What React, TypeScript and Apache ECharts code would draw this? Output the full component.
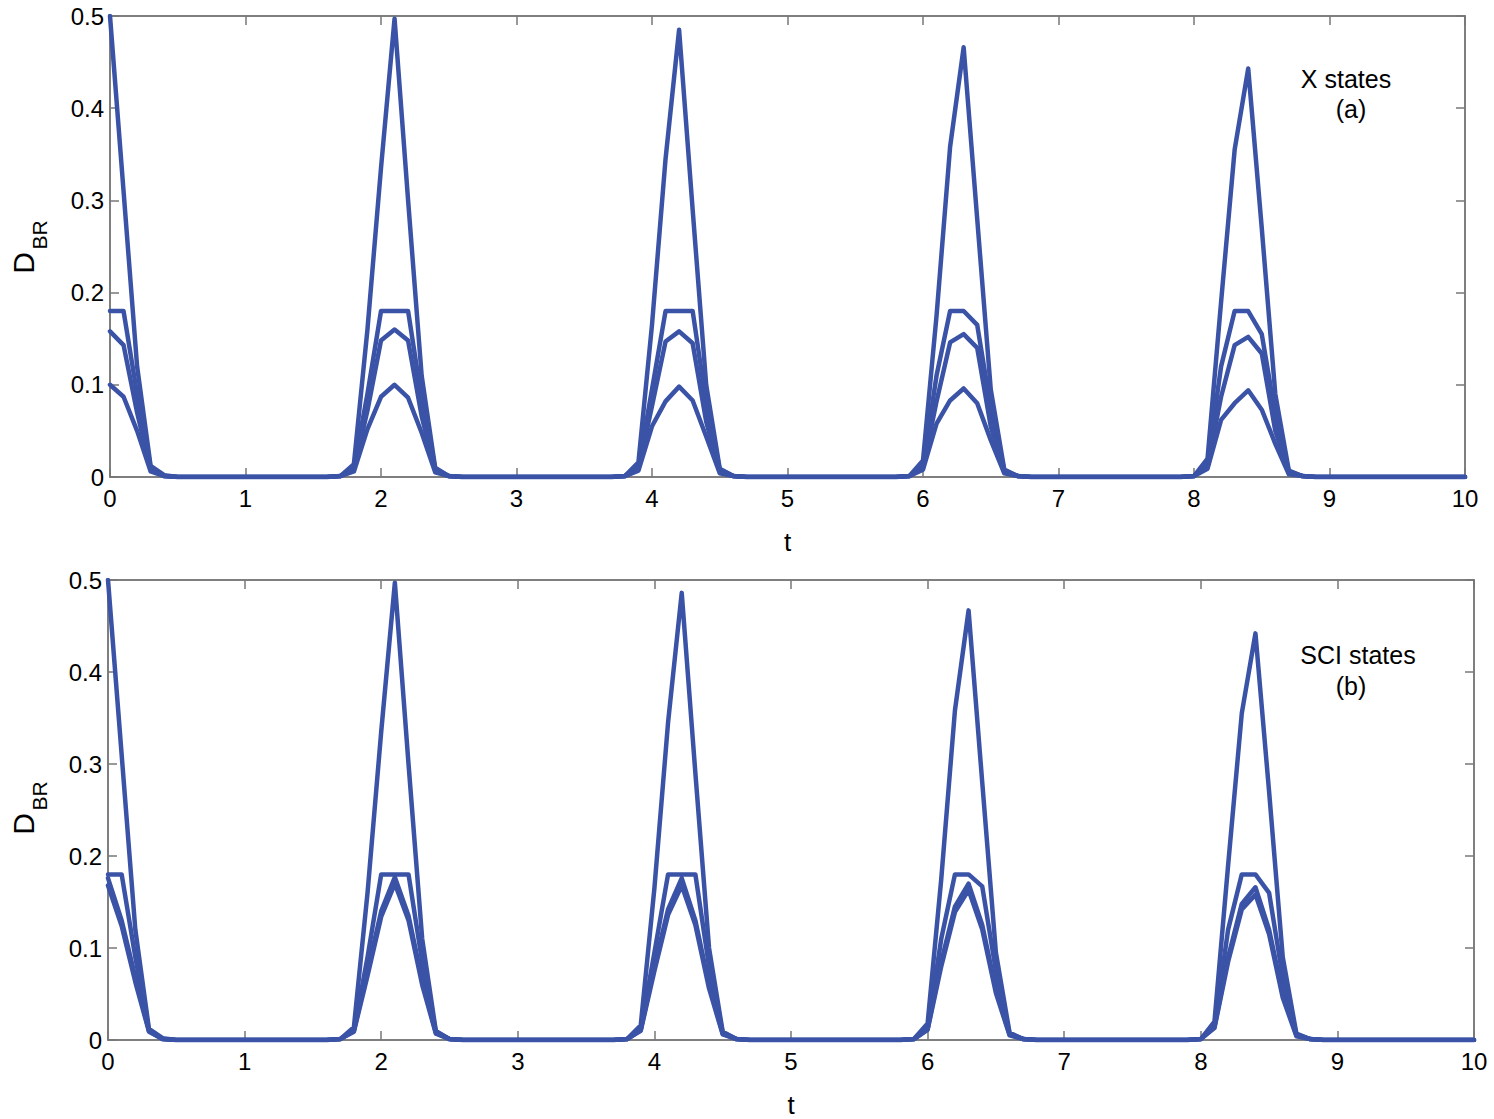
import React, { useEffect, useRef } from "react";
import * as echarts from "echarts";

// ---- Data (t, D_BR) ----
const xTicks = [0, 1, 2, 3, 4, 5, 6, 7, 8, 9, 10];
const yTicks = [0, 0.1, 0.2, 0.3, 0.4, 0.5];

// Panel (a): X states
const xTall: [number, number][] = [
  [0, 0.5], [0.1, 0.31], [0.2, 0.12], [0.3, 0.012], [0.4, 0.002], [0.5, 0],
  [1.6, 0], [1.7, 0.001], [1.8, 0.014], [1.9, 0.16], [2.0, 0.335], [2.1, 0.497], [2.2, 0.3], [2.3, 0.11], [2.4, 0.01], [2.5, 0.001], [2.6, 0],
  [3.7, 0], [3.8, 0.001], [3.9, 0.016], [4.0, 0.165], [4.1, 0.345], [4.2, 0.485], [4.3, 0.29], [4.4, 0.1], [4.5, 0.009], [4.6, 0.001], [4.7, 0],
  [5.8, 0], [5.9, 0.001], [6.0, 0.018], [6.1, 0.175], [6.2, 0.358], [6.3, 0.466], [6.4, 0.28], [6.5, 0.095], [6.6, 0.008], [6.7, 0.001], [6.8, 0],
  [7.9, 0], [8.0, 0.001], [8.1, 0.02], [8.2, 0.19], [8.3, 0.355], [8.4, 0.443], [8.5, 0.27], [8.6, 0.09], [8.7, 0.007], [8.8, 0.001], [8.9, 0], [10, 0],
];
const xFlat: [number, number][] = [
  [0, 0.18], [0.1, 0.18], [0.2, 0.09], [0.3, 0.01], [0.4, 0.001], [0.5, 0],
  [1.6, 0], [1.7, 0.001], [1.8, 0.01], [1.9, 0.09], [2.0, 0.18], [2.1, 0.18], [2.2, 0.18], [2.3, 0.085], [2.4, 0.009], [2.5, 0.001], [2.6, 0],
  [3.7, 0], [3.8, 0.001], [3.9, 0.011], [4.0, 0.095], [4.1, 0.18], [4.2, 0.18], [4.3, 0.18], [4.4, 0.08], [4.5, 0.008], [4.6, 0.001], [4.7, 0],
  [5.8, 0], [5.9, 0.001], [6.0, 0.012], [6.1, 0.11], [6.2, 0.18], [6.3, 0.18], [6.4, 0.165], [6.5, 0.075], [6.6, 0.007], [6.7, 0.001], [6.8, 0],
  [7.9, 0], [8.0, 0.001], [8.1, 0.015], [8.2, 0.12], [8.3, 0.18], [8.4, 0.18], [8.5, 0.155], [8.6, 0.068], [8.7, 0.006], [8.8, 0.001], [8.9, 0], [10, 0],
];
const xMid: [number, number][] = [
  [0, 0.158], [0.1, 0.143], [0.2, 0.07], [0.3, 0.008], [0.4, 0.001], [0.5, 0],
  [1.6, 0], [1.7, 0.001], [1.8, 0.008], [1.9, 0.072], [2.0, 0.148], [2.1, 0.16], [2.2, 0.148], [2.3, 0.066], [2.4, 0.007], [2.5, 0.001], [2.6, 0],
  [3.7, 0], [3.8, 0.001], [3.9, 0.009], [4.0, 0.077], [4.1, 0.147], [4.2, 0.158], [4.3, 0.145], [4.4, 0.06], [4.5, 0.006], [4.6, 0.001], [4.7, 0],
  [5.8, 0], [5.9, 0.001], [6.0, 0.01], [6.1, 0.082], [6.2, 0.146], [6.3, 0.155], [6.4, 0.14], [6.5, 0.055], [6.6, 0.005], [6.7, 0.001], [6.8, 0],
  [7.9, 0], [8.0, 0.001], [8.1, 0.012], [8.2, 0.087], [8.3, 0.143], [8.4, 0.152], [8.5, 0.134], [8.6, 0.05], [8.7, 0.005], [8.8, 0.001], [8.9, 0], [10, 0],
];
const xLow: [number, number][] = [
  [0, 0.1], [0.1, 0.087], [0.2, 0.05], [0.3, 0.006], [0.4, 0.001], [0.5, 0],
  [1.6, 0], [1.7, 0.001], [1.8, 0.006], [1.9, 0.052], [2.0, 0.087], [2.1, 0.1], [2.2, 0.086], [2.3, 0.048], [2.4, 0.005], [2.5, 0.001], [2.6, 0],
  [3.7, 0], [3.8, 0.001], [3.9, 0.007], [4.0, 0.055], [4.1, 0.082], [4.2, 0.098], [4.3, 0.083], [4.4, 0.044], [4.5, 0.004], [4.6, 0.001], [4.7, 0],
  [5.8, 0], [5.9, 0.001], [6.0, 0.008], [6.1, 0.058], [6.2, 0.083], [6.3, 0.096], [6.4, 0.08], [6.5, 0.04], [6.6, 0.004], [6.7, 0.001], [6.8, 0],
  [7.9, 0], [8.0, 0.001], [8.1, 0.009], [8.2, 0.062], [8.3, 0.08], [8.4, 0.094], [8.5, 0.073], [8.6, 0.036], [8.7, 0.003], [8.8, 0.001], [8.9, 0], [10, 0],
];

// Panel (b): SCI states
const sTall: [number, number][] = [
  [0, 0.5], [0.1, 0.31], [0.2, 0.12], [0.3, 0.012], [0.4, 0.002], [0.5, 0],
  [1.6, 0], [1.7, 0.001], [1.8, 0.014], [1.9, 0.16], [2.0, 0.335], [2.1, 0.497], [2.2, 0.3], [2.3, 0.11], [2.4, 0.01], [2.5, 0.001], [2.6, 0],
  [3.7, 0], [3.8, 0.001], [3.9, 0.016], [4.0, 0.165], [4.1, 0.345], [4.2, 0.486], [4.3, 0.29], [4.4, 0.1], [4.5, 0.009], [4.6, 0.001], [4.7, 0],
  [5.8, 0], [5.9, 0.001], [6.0, 0.018], [6.1, 0.175], [6.2, 0.358], [6.3, 0.467], [6.4, 0.28], [6.5, 0.095], [6.6, 0.008], [6.7, 0.001], [6.8, 0],
  [7.9, 0], [8.0, 0.001], [8.1, 0.02], [8.2, 0.19], [8.3, 0.355], [8.4, 0.442], [8.5, 0.27], [8.6, 0.09], [8.7, 0.007], [8.8, 0.001], [8.9, 0], [10, 0],
];
const sFlat: [number, number][] = [
  [0, 0.18], [0.1, 0.18], [0.2, 0.09], [0.3, 0.01], [0.4, 0.001], [0.5, 0],
  [1.6, 0], [1.7, 0.001], [1.8, 0.01], [1.9, 0.09], [2.0, 0.18], [2.1, 0.18], [2.2, 0.18], [2.3, 0.085], [2.4, 0.009], [2.5, 0.001], [2.6, 0],
  [3.7, 0], [3.8, 0.001], [3.9, 0.011], [4.0, 0.095], [4.1, 0.18], [4.2, 0.18], [4.3, 0.18], [4.4, 0.08], [4.5, 0.008], [4.6, 0.001], [4.7, 0],
  [5.8, 0], [5.9, 0.001], [6.0, 0.012], [6.1, 0.11], [6.2, 0.18], [6.3, 0.18], [6.4, 0.167], [6.5, 0.075], [6.6, 0.007], [6.7, 0.001], [6.8, 0],
  [7.9, 0], [8.0, 0.001], [8.1, 0.015], [8.2, 0.12], [8.3, 0.18], [8.4, 0.18], [8.5, 0.16], [8.6, 0.068], [8.7, 0.006], [8.8, 0.001], [8.9, 0], [10, 0],
];
const sPeakA: [number, number][] = [
  [0, 0.176], [0.1, 0.13], [0.2, 0.068], [0.3, 0.01], [0.4, 0.001], [0.5, 0],
  [1.6, 0], [1.7, 0.001], [1.8, 0.01], [1.9, 0.075], [2.0, 0.14], [2.1, 0.177], [2.2, 0.135], [2.3, 0.065], [2.4, 0.008], [2.5, 0.001], [2.6, 0],
  [3.7, 0], [3.8, 0.001], [3.9, 0.011], [4.0, 0.08], [4.1, 0.142], [4.2, 0.176], [4.3, 0.13], [4.4, 0.06], [4.5, 0.007], [4.6, 0.001], [4.7, 0],
  [5.8, 0], [5.9, 0.001], [6.0, 0.012], [6.1, 0.085], [6.2, 0.145], [6.3, 0.17], [6.4, 0.125], [6.5, 0.055], [6.6, 0.006], [6.7, 0.001], [6.8, 0],
  [7.9, 0], [8.0, 0.001], [8.1, 0.014], [8.2, 0.09], [8.3, 0.148], [8.4, 0.166], [8.5, 0.12], [8.6, 0.05], [8.7, 0.005], [8.8, 0.001], [8.9, 0], [10, 0],
];
const sPeakB: [number, number][] = [
  [0, 0.168], [0.1, 0.124], [0.2, 0.063], [0.3, 0.009], [0.4, 0.001], [0.5, 0],
  [1.6, 0], [1.7, 0.001], [1.8, 0.009], [1.9, 0.07], [2.0, 0.134], [2.1, 0.17], [2.2, 0.13], [2.3, 0.06], [2.4, 0.007], [2.5, 0.001], [2.6, 0],
  [3.7, 0], [3.8, 0.001], [3.9, 0.01], [4.0, 0.075], [4.1, 0.136], [4.2, 0.168], [4.3, 0.125], [4.4, 0.056], [4.5, 0.006], [4.6, 0.001], [4.7, 0],
  [5.8, 0], [5.9, 0.001], [6.0, 0.011], [6.1, 0.08], [6.2, 0.139], [6.3, 0.163], [6.4, 0.12], [6.5, 0.051], [6.6, 0.005], [6.7, 0.001], [6.8, 0],
  [7.9, 0], [8.0, 0.001], [8.1, 0.013], [8.2, 0.085], [8.3, 0.142], [8.4, 0.158], [8.5, 0.115], [8.6, 0.046], [8.7, 0.004], [8.8, 0.001], [8.9, 0], [10, 0],
];

const panelA = [xTall, xFlat, xMid, xLow];
const panelB = [sTall, sFlat, sPeakA, sPeakB];

const LINE_COLOR = "#3a53a6";
const AXIS_COLOR = "#555555";
const FONT = "'Liberation Sans', Arial, sans-serif";

export default function App() {
  const ref = useRef<HTMLDivElement>(null);

  useEffect(() => {
    if (!ref.current) return;
    const chart = echarts.init(ref.current, undefined, { renderer: "svg" });

    const grids = [
      { left: 110, top: 16, width: 1355, height: 461 },
      { left: 108, top: 580, width: 1366, height: 460 },
    ];

    const baseX = (gridIndex: number, position: "bottom" | "top", labels: boolean) => ({
      type: "value",
      gridIndex,
      position,
      min: 0,
      max: 10,
      interval: 1,
      axisLine: { show: true, onZero: false, lineStyle: { color: AXIS_COLOR, width: 1.5 } },
      axisTick: { show: true, inside: true, length: 9, lineStyle: { color: "#777", width: 1.5 } },
      axisLabel: {
        show: labels,
        color: "#000",
        fontSize: 24,
        fontFamily: FONT,
        margin: 9,
        formatter: (v: number) => (xTicks.includes(v) ? String(v) : ""),
      },
      splitLine: { show: false },
      ...(labels
        ? {
            name: "t",
            nameLocation: "middle",
            nameGap: 52,
            nameTextStyle: { color: "#000", fontSize: 26, fontFamily: FONT },
          }
        : {}),
    });

    const baseY = (gridIndex: number, position: "left" | "right", labels: boolean) => ({
      type: "value",
      gridIndex,
      position,
      min: 0,
      max: 0.5,
      interval: 0.1,
      axisLine: { show: true, onZero: false, lineStyle: { color: AXIS_COLOR, width: 1.5 } },
      axisTick: { show: true, inside: true, length: 9, lineStyle: { color: "#777", width: 1.5 } },
      axisLabel: {
        show: labels,
        color: "#000",
        fontSize: 24,
        fontFamily: FONT,
        margin: 6,
        formatter: (v: number) => {
          const r = Math.round(v * 10) / 10;
          return yTicks.includes(r) ? String(r) : "";
        },
      },
      splitLine: { show: false },
    });

    const makeSeries = (data: [number, number][], idx: number) => ({
      type: "line",
      xAxisIndex: idx,
      yAxisIndex: idx,
      data,
      showSymbol: false,
      symbol: "none",
      lineStyle: { color: LINE_COLOR, width: 4.5, join: "round", cap: "round" },
      itemStyle: { color: LINE_COLOR },
      z: 3,
    });

    const series = [
      ...panelA.map((d) => makeSeries(d, 0)),
      ...panelB.map((d) => makeSeries(d, 1)),
    ];

    const txt = (text: string, x: number, y: number, size: number, rotation = 0) => ({
      type: "text",
      x,
      y,
      rotation,
      style: {
        text,
        fill: "#000",
        font: `${size}px ${FONT}`,
        textAlign: "center",
        textVerticalAlign: "middle",
      },
      z: 10,
    });

    chart.setOption({
      animation: false,
      backgroundColor: "#ffffff",
      grid: grids.map((g) => ({ ...g, containLabel: false })),
      xAxis: [
        baseX(0, "bottom", true),
        baseX(1, "bottom", true),
        baseX(0, "top", false),
        baseX(1, "top", false),
      ],
      yAxis: [
        baseY(0, "left", true),
        baseY(1, "left", true),
        baseY(0, "right", false),
        baseY(1, "right", false),
      ],
      series,
      graphic: [
        txt("X states", 1346, 79, 25),
        txt("(a)", 1351, 109, 25),
        txt("SCI states", 1358, 655, 25),
        txt("(b)", 1351, 686, 25),
        txt("D", 23, 263, 30, Math.PI / 2),
        txt("BR", 39, 235, 21, Math.PI / 2),
        txt("D", 23, 824, 30, Math.PI / 2),
        txt("BR", 39, 796, 21, Math.PI / 2),
      ],
    });

    return () => chart.dispose();
  }, []);

  return (
    <div
      ref={ref}
      style={{ position: "absolute", left: 0, top: 0, width: 1494, height: 1119 }}
    />
  );
}
